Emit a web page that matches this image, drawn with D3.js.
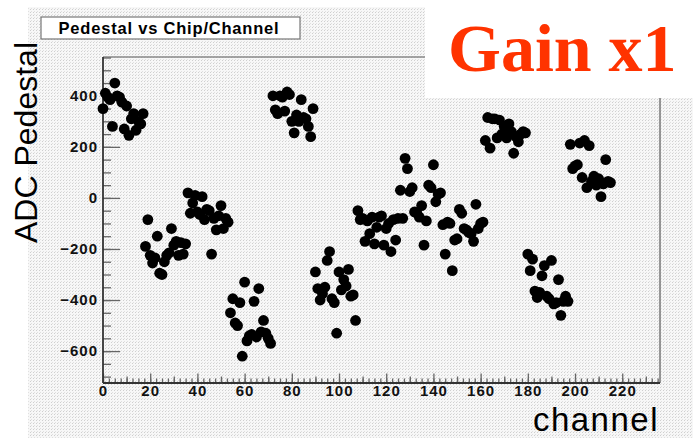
<!DOCTYPE html>
<html>
<head>
<meta charset="utf-8">
<script src="https://cdn.jsdelivr.net/npm/d3@7"></script>
<style>
  body { margin: 0; background: #fff; }
  svg { display: block; }
  text { font-family: "Liberation Sans", Arial, Helvetica, sans-serif; }
</style>
</head>
<body>
<svg width="693" height="438"></svg>
<script>
// pedestal per chip, 18 channels each
const chipSize = 18;
const pedestals = [
  [350, 410, 395, 385, 280, 450, 400, 395, 375, 270, 360, 245, 310, 330, 265, 300, 290, 330],
  [-190, -85, -225, -255, -235, -150, -295, -300, -250, -225, -215, -120, -185, -170, -225, -175, -220, -180],
  [20, -60, -20, 10, -55, -65, 5, -85, -45, -50, -220, -80, -125, -70, -30, -120, -80, -95],
  [-450, -395, -490, -500, -410, -620, -330, -560, -540, -535, -405, -545, -355, -525, -480, -530, -550, -570],
  [400, 345, 330, 400, 395, 340, 415, 405, 300, 255, 325, 300, 385, 315, 310, 280, 240, 350],
  [-290, -355, -400, -375, -350, -245, -210, -395, -410, -530, -290, -360, -320, -345, -280, -385, -380, -480],
  [-50, -85, -80, -170, -90, -140, -75, -180, -115, -75, -70, -185, -120, -100, -210, -85, -165, -80],
  [30, -80, 155, 115, 25, 40, -55, -60, -75, -30, -185, -90, 50, 40, 130, -15, 15, 20],
  [-105, -220, -95, -100, -285, -165, -160, -45, -60, -120, -125, -135, -140, -170, -25, -120, -100, -95],
  [225, 315, 195, 310, 310, 235, 305, 250, 280, 235, 290, 260, 175, 240, 220, 250, 260, 255],
  [-220, -285, -240, -365, -390, -370, -305, -265, -385, -395, -245, -415, -410, -320, -460, -405, -385, -405],
  [210, 115, 125, 130, 215, 80, 225, 40, 205, 65, 85, 50, 75, 5, 55, 150, 65, 60]
];
const xTickLabels = [0, 20, 40, 60, 80, 100, 120, 140, 160, 180, 200, 220];
const yTickLabels = [-600, -400, -200, 0, 200, 400];

const points = [];
pedestals.forEach((chip, c) => {
  chip.forEach((v, i) => points.push({ ch: c * chipSize + i, v: v }));
});

const svg = d3.select('svg');
const W = 693, H = 438;

// stippled background, like the ROOT canvas
const defs = svg.append('defs');
const pat = defs.append('pattern')
  .attr('id', 'stip').attr('width', 3).attr('height', 3)
  .attr('patternUnits', 'userSpaceOnUse');
pat.append('rect').attr('width', 3).attr('height', 3).attr('fill', '#f7f7f7');
pat.append('rect').attr('x', 0).attr('y', 0).attr('width', 1).attr('height', 1).attr('fill', '#cfcfcf');
pat.append('rect').attr('x', 1).attr('y', 2).attr('width', 1).attr('height', 1).attr('fill', '#e0e0e0');

svg.append('rect').attr('x', 28).attr('y', 7).attr('width', W - 28).attr('height', H - 7)
  .attr('fill', 'url(#stip)');

const x = d3.scaleLinear().domain([0, 236]).range([103, 660]);
const y = d3.scaleLinear().domain([-725, 552]).range([383, 57]);

// frame top/right
svg.append('line').attr('x1', x(0)).attr('x2', x(236)).attr('y1', y(552)).attr('y2', y(552))
  .attr('stroke', '#888').attr('stroke-width', 1.5);
svg.append('line').attr('x1', x(236)).attr('x2', x(236)).attr('y1', y(552)).attr('y2', y(-725))
  .attr('stroke', '#777').attr('stroke-width', 1.5);

function tickAxis(axis, g) {
  g.call(axis);
  g.select('.domain').remove();
  g.selectAll('.tick line').attr('stroke', '#666').attr('stroke-width', 1.3);
  return g;
}

// y ticks
tickAxis(d3.axisLeft(y).tickValues(d3.range(-700, 551, 50)).tickSize(-8).tickFormat(''),
  svg.append('g').attr('transform', `translate(${x(0)},0)`));
const yMajor = tickAxis(d3.axisLeft(y).tickValues(yTickLabels).tickSize(-17).tickPadding(5),
  svg.append('g').attr('transform', `translate(${x(0)},0)`));
yMajor.selectAll('text').attr('font-size', 15).attr('font-weight', 'bold')
  .attr('letter-spacing', 1).attr('fill', '#111');

// x ticks
tickAxis(d3.axisBottom(x).tickValues(d3.range(0, 236, 2.5)).tickSize(-4.5).tickFormat(''),
  svg.append('g').attr('transform', `translate(0,${y(-725)})`));
tickAxis(d3.axisBottom(x).tickValues(d3.range(10, 236, 20)).tickSize(-6.5).tickFormat(''),
  svg.append('g').attr('transform', `translate(0,${y(-725)})`));
const xMajor = tickAxis(d3.axisBottom(x).tickValues(xTickLabels).tickSize(-9.5).tickPadding(2),
  svg.append('g').attr('transform', `translate(0,${y(-725)})`));
xMajor.selectAll('text').attr('font-size', 15).attr('font-weight', 'bold')
  .attr('letter-spacing', 1).attr('fill', '#111');

// left and bottom axis lines
svg.append('line').attr('x1', x(0)).attr('x2', x(0)).attr('y1', y(552)).attr('y2', y(-725))
  .attr('stroke', '#333').attr('stroke-width', 1.8);
svg.append('line').attr('x1', x(0)).attr('x2', x(236)).attr('y1', y(-725)).attr('y2', y(-725))
  .attr('stroke', '#333').attr('stroke-width', 1.8);

// markers
svg.append('g').selectAll('circle').data(points).join('circle')
  .attr('cx', d => x(d.ch))
  .attr('cy', d => y(d.v))
  .attr('r', 5.4)
  .attr('fill', '#000');

// title box
svg.append('rect').attr('x', 41).attr('y', 17).attr('width', 259).attr('height', 22)
  .attr('fill', '#fff').attr('stroke', '#777').attr('stroke-width', 1.2);
svg.append('text').attr('x', 169).attr('y', 34).attr('text-anchor', 'middle')
  .attr('font-size', 16.5).attr('font-weight', 'bold').attr('letter-spacing', 0.8)
  .attr('fill', '#000').text('Pedestal vs Chip/Channel');

// axis titles
svg.append('text')
  .attr('transform', 'translate(37,42) rotate(-90)')
  .attr('text-anchor', 'end')
  .attr('font-size', 32).attr('fill', '#000')
  .text('ADC Pedestal');
svg.append('text').attr('x', 659).attr('y', 431).attr('text-anchor', 'end')
  .attr('font-size', 33).attr('letter-spacing', 1.5).attr('fill', '#000').text('channel');

// Gain label box
svg.append('rect').attr('x', 425).attr('y', 0).attr('width', W - 425).attr('height', 98)
  .attr('fill', '#fff');
svg.append('text').attr('x', 448).attr('y', 71)
  .style('font-family', '"Liberation Serif", "Times New Roman", serif')
  .attr('font-size', 68).attr('font-weight', 'bold').attr('fill', '#ff3300')
  .text('Gain x1');
</script>
</body>
</html>
